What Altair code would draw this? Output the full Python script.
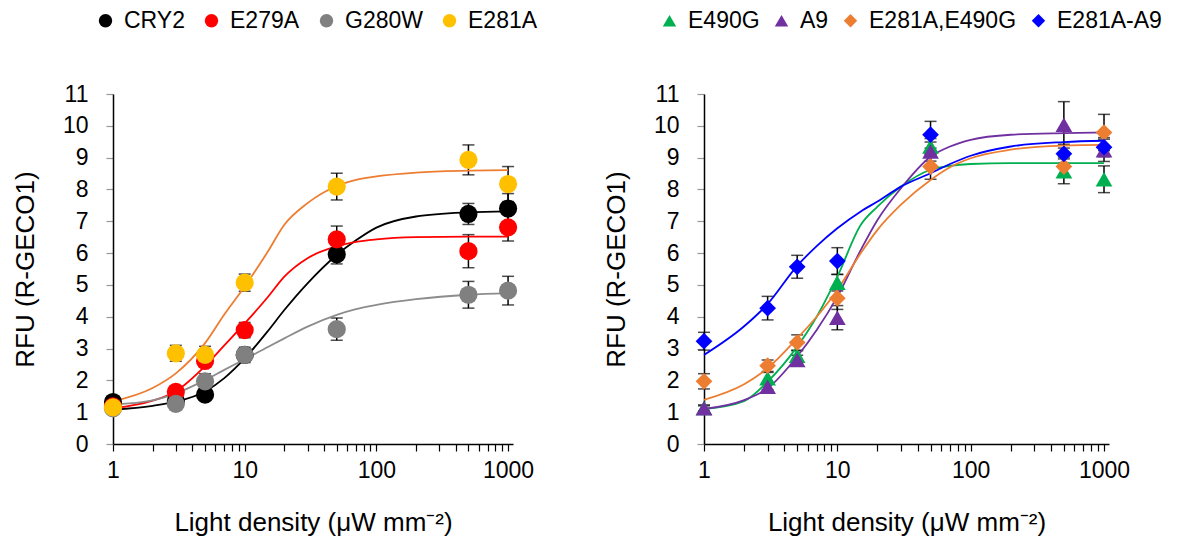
import altair as alt
import pandas as pd

# ---------------- data ----------------
X_PTS = [1, 3, 5, 10, 50, 500, 1000]

LEFT_SERIES = ["CRY2", "E279A", "G280W", "E281A"]
CRY2_Y = [1.32, 1.35, 1.55, 2.80, 5.96, 7.23, 7.40]
CRY2_ERR = [0.10, 0.08, 0.08, 0.15, 0.30, 0.33, 0.47]
E279A_Y = [1.18, 1.64, 2.61, 3.58, 6.43, 6.06, 6.81]
E279A_ERR = [0.08, 0.12, 0.15, 0.24, 0.42, 0.52, 0.43]
G280W_Y = [1.12, 1.26, 1.97, 2.80, 3.61, 4.69, 4.82]
G280W_ERR = [0.08, 0.10, 0.24, 0.24, 0.35, 0.42, 0.45]
E281A_Y = [1.15, 2.85, 2.80, 5.07, 8.09, 8.93, 8.17]
E281A_ERR = [0.10, 0.25, 0.27, 0.27, 0.42, 0.47, 0.55]

RIGHT_SERIES = ["E490G", "A9", "E281A,E490G", "E281A-A9"]
E490G_Y = [1.13, 2.07, 2.77, 5.07, 9.35, 8.57, 8.32]
E490G_ERR = [0.10, 0.18, 0.16, 0.26, 0.25, 0.39, 0.42]
A9_Y = [1.12, 1.80, 2.64, 3.97, 9.19, 10.03, 9.23]
A9_ERR = [0.08, 0.10, 0.15, 0.38, 0.30, 0.73, 0.35]
E281A_E490G_Y = [1.97, 2.46, 3.19, 4.58, 8.72, 8.72, 9.79]
E281A_E490G_ERR = [0.24, 0.18, 0.24, 0.35, 0.40, 0.30, 0.57]
E281A_A9_Y = [3.23, 4.27, 5.57, 5.75, 9.72, 9.12, 9.33]
E281A_A9_ERR = [0.28, 0.37, 0.36, 0.42, 0.42, 0.30, 0.30]

# fitted curves
FIT_X = [1, 2, 3, 5, 7, 10, 15, 20, 30, 50, 70, 100, 200, 500, 1000]
CRY2_FIT = [1.08, 1.20, 1.33, 1.65, 2.07, 2.69, 3.55, 4.21, 5.05, 5.94, 6.40, 6.80, 7.15, 7.28, 7.31]
E279A_FIT = [1.12, 1.36, 1.66, 2.45, 3.10, 3.79, 4.62, 5.26, 5.84, 6.21, 6.35, 6.43, 6.50, 6.52, 6.52]
G280W_FIT = [1.24, 1.37, 1.59, 2.01, 2.33, 2.66, 3.05, 3.32, 3.69, 4.06, 4.24, 4.37, 4.55, 4.69, 4.74]
E281A_FIT = [1.34, 1.76, 2.22, 3.17, 4.07, 4.95, 6.05, 6.89, 7.57, 8.11, 8.30, 8.41, 8.53, 8.59, 8.61]
E490G_FIT = [1.10, 1.35, 1.96, 3.06, 4.00, 5.26, 6.89, 7.46, 8.09, 8.62, 8.74, 8.80, 8.83, 8.83, 8.83]
A9_FIT = [1.10, 1.38, 1.75, 2.75, 3.58, 4.63, 6.10, 7.04, 8.04, 9.03, 9.35, 9.56, 9.72, 9.77, 9.79]
E281A_E490G_FIT = [1.39, 1.88, 2.38, 3.32, 4.00, 4.84, 6.00, 6.73, 7.52, 8.30, 8.70, 8.98, 9.25, 9.38, 9.40]
E281A_A9_FIT = [2.80, 3.70, 4.40, 5.60, 6.22, 6.78, 7.31, 7.62, 8.09, 8.51, 8.80, 9.06, 9.35, 9.49, 9.53]

LEFT_MARK_COLORS = ["#000000", "#FF0000", "#808080", "#FFC000"]
LEFT_LINE_COLORS = ["#000000", "#FF0000", "#8C8C8C", "#ED7D31"]
RIGHT_MARK_COLORS = ["#00B050", "#7030A0", "#ED7D31", "#0000FF"]
RIGHT_LINE_COLORS = ["#00B050", "#7030A0", "#ED7D31", "#0000FF"]
LEFT_SHAPES = ["circle", "circle", "circle", "circle"]
RIGHT_SHAPES = ["triangle-up", "triangle-up", "diamond", "diamond"]

X_TICKS = [1, 2, 3, 4, 5, 6, 7, 8, 9, 10, 20, 30, 40, 50, 60, 70, 80, 90,
           100, 200, 300, 400, 500, 600, 700, 800, 900, 1000]
Y_TICKS = list(range(0, 12))


def points_df(names, ys, errs):
    rows = []
    for n, yy, ee in zip(names, ys, errs):
        for x, y, e in zip(X_PTS, yy, ee):
            rows.append({"series": n, "x": x, "y": y, "lo": y - e, "hi": y + e})
    return pd.DataFrame(rows)


def fit_df(names, fits, colors):
    rows = []
    for n, ff, c in zip(names, fits, colors):
        for x, y in zip(FIT_X, ff):
            rows.append({"curve": n, "lc": c, "x": x, "y": y})
    return pd.DataFrame(rows)


left_pts = points_df(LEFT_SERIES, [CRY2_Y, E279A_Y, G280W_Y, E281A_Y],
                     [CRY2_ERR, E279A_ERR, G280W_ERR, E281A_ERR])
left_fit = fit_df(LEFT_SERIES, [CRY2_FIT, E279A_FIT, G280W_FIT, E281A_FIT], LEFT_LINE_COLORS)
right_pts = points_df(RIGHT_SERIES, [E490G_Y, A9_Y, E281A_E490G_Y, E281A_A9_Y],
                      [E490G_ERR, A9_ERR, E281A_E490G_ERR, E281A_A9_ERR])
right_fit = fit_df(RIGHT_SERIES, [E490G_FIT, A9_FIT, E281A_E490G_FIT, E281A_A9_FIT],
                   RIGHT_LINE_COLORS)

X_TITLE = "Light density (μW mm⁻²)"
Y_TITLE = "RFU (R-GECO1)"


def panel(pts, fit, names, mark_colors, shapes, size, width, legend_x, col_pad):
    xs = alt.Scale(type="log", domain=[1, 1090], nice=False)
    ys = alt.Scale(domain=[0, 11], nice=False)
    xax = alt.Axis(values=X_TICKS, format="d", title=X_TITLE, labelOverlap=False,
                   labelExpr="(datum.value == 1 || datum.value == 10 || datum.value == 100 || datum.value == 1000) ? datum.label : ''")
    yax = alt.Axis(values=Y_TICKS, title=Y_TITLE, tickColor="#999999", labelOverlap=False)
    legend = alt.Legend(orient="none", legendX=legend_x, legendY=-85, direction="horizontal",
                        columnPadding=col_pad, title=None)

    def X(f):
        return alt.X(f, scale=xs, axis=xax)

    def Y(f):
        return alt.Y(f, scale=ys, axis=yax)

    base_pts = alt.Chart(pts)
    bars = base_pts.mark_rule(color="black", strokeWidth=1.5).encode(
        x=X("x:Q"), y=Y("lo:Q"), y2="hi:Q", detail="series:N")
    cap_lo = base_pts.mark_tick(color="black", orient="horizontal", size=12, thickness=1.5).encode(
        x=X("x:Q"), y=Y("lo:Q"), detail="series:N")
    cap_hi = base_pts.mark_tick(color="black", orient="horizontal", size=12, thickness=1.5).encode(
        x=X("x:Q"), y=Y("hi:Q"), detail="series:N")
    lines = alt.Chart(fit).mark_line(strokeWidth=1.8, interpolate="monotone").encode(
        x=X("x:Q"), y=Y("y:Q"),
        detail="curve:N",
        stroke=alt.Stroke("lc:N", scale=None),
    )
    dots = base_pts.mark_point(filled=True, size=size, opacity=1).encode(
        x=X("x:Q"), y=Y("y:Q"),
        color=alt.Color("series:N", scale=alt.Scale(domain=names, range=mark_colors),
                        legend=legend),
        shape=alt.Shape("series:N", scale=alt.Scale(domain=names, range=shapes),
                        legend=legend),
    )
    return alt.layer(bars, cap_lo, cap_hi, lines, dots).properties(width=width, height=350)


left = panel(left_pts, left_fit, LEFT_SERIES, LEFT_MARK_COLORS, LEFT_SHAPES, 330, 400, -19, 15)
right = panel(right_pts, right_fit, RIGHT_SERIES, RIGHT_MARK_COLORS, RIGHT_SHAPES, 280, 405, -46, 10)

chart = alt.hconcat(left, right, spacing=65).resolve_scale(
    color="independent", shape="independent"
).properties(
    padding={"left": 12, "top": 9, "right": 2, "bottom": 5}
).configure(
    font="Liberation Sans"
).configure_view(
    stroke=None
).configure_axis(
    grid=False,
    domainColor="black",
    domainWidth=1.5,
    tickColor="black",
    tickSize=7,
    tickWidth=1.2,
    labelFontSize=23,
    labelColor="black",
    labelPadding=4,
    titleFontSize=26,
    titleFontWeight="normal",
    titleColor="black",
).configure_axisY(
    titlePadding=24,
    labelPadding=18,
).configure_axisX(
    titlePadding=27,
    labelPadding=8,
    labelFlush=False,
).configure_legend(
    labelFontSize=23,
    labelColor="black",
    symbolSize=180,
    symbolStrokeWidth=0,
    labelOffset=7,
    padding=0,
)

chart.save("out.html", embed_options={"renderer": "svg", "actions": False})
